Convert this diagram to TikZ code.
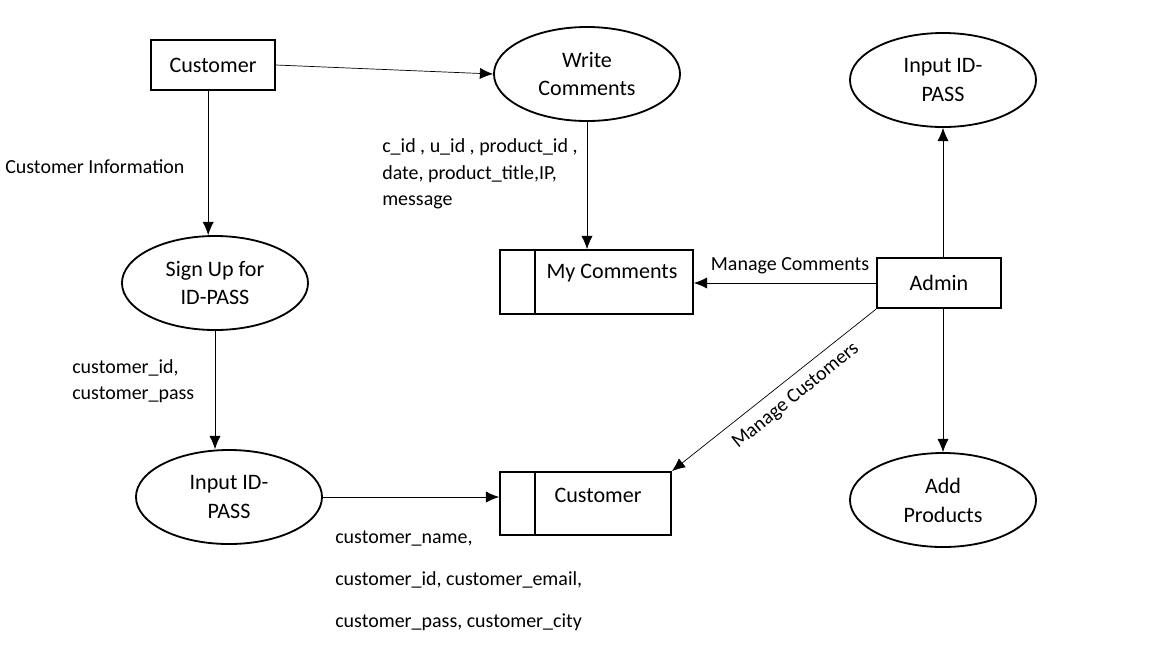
\documentclass[tikz,border=0pt]{standalone}
\usepackage{fontspec}
\setmainfont{Carlito}
\usetikzlibrary{shapes.geometric,arrows.meta}

\begin{document}
\begin{tikzpicture}[x=0.025cm, y=-0.025cm,
    font=\fontsize{14.2}{17}\selectfont,
    ent/.style={rectangle, draw, line width=1.3pt, minimum width=3.1cm, minimum height=1.26cm, font=\fontsize{15.7}{19}\selectfont},
    proc/.style={ellipse, draw, line width=1.3pt, minimum width=4.65cm, minimum height=2.35cm, align=center, font=\fontsize{15.7}{20.5}\selectfont},
    store/.style={rectangle, draw, line width=1.3pt},
    flow/.style={-{Latex[length=3.3mm, width=2.8mm]}, line width=0.5pt},
    info/.style={align=left, anchor=west, inner xsep=0pt}]
        \useasboundingbox (0,0) rectangle (1176,660);

        % Entities and processes
        \node (1) [ent] at (213, 65) {Customer};
        \node (2) [proc] at (587, 74) {Write\\Comments};
        \node (3) [proc] at (215, 283) {Sign Up for\\ID-PASS};
        \node (4) [proc] at (229, 497) {Input ID-\\PASS};
        \node (5) [proc] at (943, 80) {Input ID-\\PASS};
        \node (6) [proc] at (943, 500) {Add\\Products};
        \node (ad) [ent] at (939, 283) {Admin};

        % Data stores
        \node (ms) [store, minimum width=4.825cm, minimum height=1.6cm] at (596.5, 282) {};
        \draw[line width=0.9pt] ([xshift=0.9cm]ms.north west) -- ([xshift=0.9cm]ms.south west);
        \node (msT) [font=\fontsize{15.7}{19}\selectfont] at (612, 273) {My Comments};
        \node (cs) [store, minimum width=4.275cm, minimum height=1.575cm] at (585.5, 503.5) {};
        \draw[line width=0.9pt] ([xshift=0.9cm]cs.north west) -- ([xshift=0.9cm]cs.south west);
        \node (csT) [font=\fontsize{15.7}{19}\selectfont] at (598, 495) {Customer};

        % Data flows
        \draw[flow] ([xshift=-0.12cm]1.south) -- ([xshift=-0.12cm]1.south |- 3.north);
        \draw[flow] (1.east) -- (2.west);
        \draw[flow] (2.south) -- (2.south |- ms.north);
        \draw[flow] (3.south) -- (3.south |- 4.north);
        \draw[flow] (4.east) -- (4.east -| cs.west);
        \draw[flow] (ad.west) -- (ad.west -| ms.east);
        \draw[flow] (ad.south west) -- (cs.north east);
        \draw[flow] (ad.north -| 5.south) -- (5.south);
        \draw[flow] (ad.south -| 6.north) -- (6.north);

        % Flow labels
        \node (l1) [info] at (5, 167) {Customer Information};
        \node (l2) [info, font=\fontsize{14.2}{18.8}\selectfont] at (382, 174) {c\_id , u\_id , product\_id ,\\date, product\_title,IP,\\message};
        \node (l3) [info, font=\fontsize{14.2}{18.5}\selectfont] at (72, 381) {customer\_id,\\customer\_pass};
        \node (l4) [info, font=\fontsize{14.2}{30}\selectfont] at (335, 581) {customer\_name,\\customer\_id, customer\_email,\\customer\_pass, customer\_city};
        \node (l5) at (790, 266) {Manage Comments};
        \node (l6) [rotate=39] at (796, 396) {Manage Customers};

    \end{tikzpicture}
\end{document}
